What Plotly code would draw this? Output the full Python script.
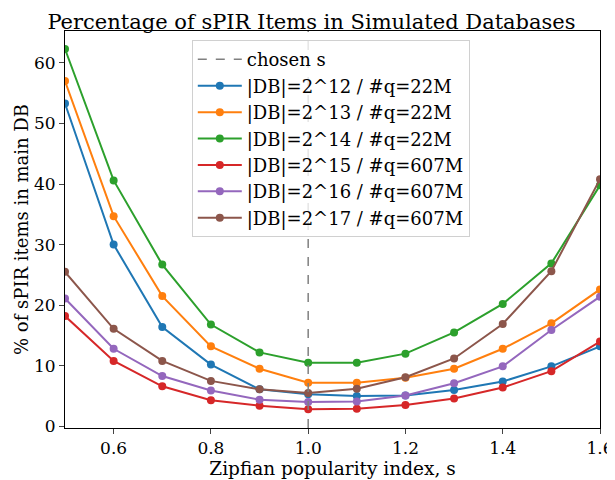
import plotly.graph_objects as go

# zipf index values on the x axis
s_values = [0.5, 0.6, 0.7, 0.8, 0.9, 1.0, 1.1, 1.2, 1.3, 1.4, 1.5, 1.6]

db_2_12 = [53.3, 30.0, 16.4, 10.2, 6.1, 5.3, 5.0, 5.1, 6.0, 7.4, 9.9, 13.2]
db_2_13 = [57.0, 34.7, 21.5, 13.2, 9.5, 7.2, 7.2, 8.0, 9.5, 12.8, 17.0, 22.6]
db_2_14 = [62.3, 40.6, 26.7, 16.8, 12.2, 10.5, 10.5, 12.0, 15.5, 20.2, 26.9, 39.8]
db_2_15 = [18.2, 10.8, 6.6, 4.3, 3.4, 2.8, 2.9, 3.5, 4.6, 6.4, 9.1, 14.0]
db_2_16 = [21.1, 12.8, 8.3, 5.9, 4.4, 4.0, 4.1, 5.1, 7.1, 9.9, 15.9, 21.4]
db_2_17 = [25.5, 16.1, 10.8, 7.5, 6.1, 5.5, 6.2, 8.1, 11.2, 16.9, 25.6, 40.8]

series_names = [
    "|DB|=2^12 / #q=22M",
    "|DB|=2^13 / #q=22M",
    "|DB|=2^14 / #q=22M",
    "|DB|=2^15 / #q=607M",
    "|DB|=2^16 / #q=607M",
    "|DB|=2^17 / #q=607M",
]
series_values = [db_2_12, db_2_13, db_2_14, db_2_15, db_2_16, db_2_17]
chosen_s = 1.0

colors = ["#1f77b4", "#ff7f0e", "#2ca02c", "#d62728", "#9467bd", "#8c564b"]
serif = "DejaVu Serif"

fig = go.Figure()

# legend entry for the dashed line
fig.add_trace(go.Scatter(
    x=[None], y=[None], mode="lines", name="chosen s",
    line=dict(color="gray", dash="dash", width=1.5),
))

for name, vals, col in zip(series_names, series_values, colors):
    fig.add_trace(go.Scatter(
        x=s_values, y=vals, name=name, mode="lines+markers",
        line=dict(color=col, width=2),
        marker=dict(color=col, size=8),
    ))

fig.add_vline(x=chosen_s, line=dict(color="gray", dash="dash", width=1.5))

# the page body adds an 8px offset, so the figure is 8px smaller
fig.update_layout(
    width=607, height=472,
    paper_bgcolor="white", plot_bgcolor="white",
    margin=dict(l=57, r=15, t=23, b=52),
    font=dict(family=serif, size=17, color="black"),
    title=dict(text="Percentage of sPIR Items in Simulated Databases",
               x=0.5, xanchor="center", y=0.971, yanchor="middle",
               font=dict(size=21)),
    legend=dict(
        x=0.237, y=0.977, xanchor="left", yanchor="top",
        bgcolor="rgba(255,255,255,0.8)", bordercolor="#d0d0d0", borderwidth=1,
        font=dict(size=18), tracegroupgap=0, itemwidth=44,
    ),
    showlegend=True,
)

fig.update_xaxes(
    range=[0.5, 1.6], tickvals=[0.6, 0.8, 1.0, 1.2, 1.4, 1.6],
    ticktext=["0.6", "0.8", "1.0", "1.2", "1.4", "1.6"],
    showgrid=False, zeroline=False, showline=True, linecolor="black",
    linewidth=1, mirror=True, ticks="outside", ticklen=5, automargin=False,
    title=dict(text="Zipfian popularity index, s", standoff=4,
               font=dict(size=18.5)),
)
fig.update_yaxes(
    range=[-0.28, 65.27], tickvals=[0, 10, 20, 30, 40, 50, 60],
    showgrid=False, zeroline=False, showline=True, linecolor="black",
    linewidth=1, mirror=True, ticks="outside", ticklen=5, automargin=False,
    title=dict(text="% of sPIR items in main DB", standoff=0,
               font=dict(size=18)),
)

fig.write_html("out.html")
